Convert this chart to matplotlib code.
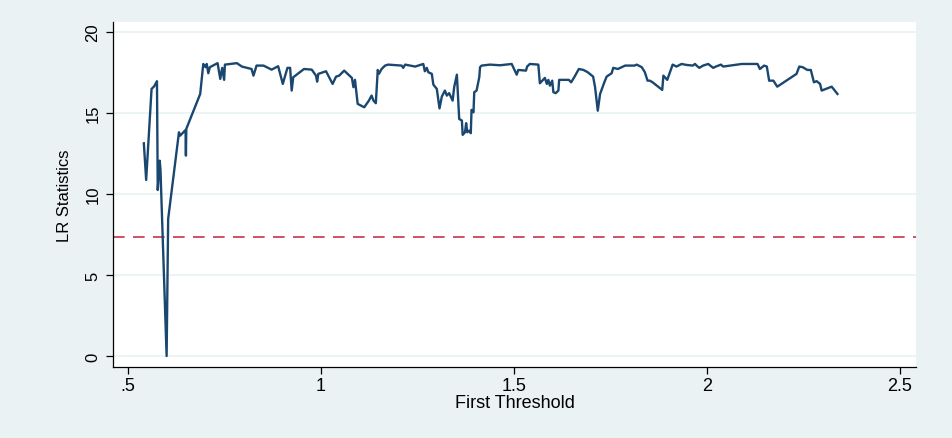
import matplotlib
matplotlib.use("Agg")
import matplotlib.pyplot as plt

# threshold values (x) and LR statistics (y)
threshold = [0.541, 0.547, 0.561, 0.568, 0.575, 0.577, 0.582, 0.584, 0.600, 0.604,
             0.632, 0.635, 0.649, 0.650, 0.651, 0.687, 0.695, 0.701, 0.704, 0.708,
             0.712, 0.732, 0.739, 0.744, 0.749, 0.751, 0.782, 0.795, 0.820, 0.825,
             0.833, 0.851, 0.872, 0.889, 0.901, 0.913, 0.920, 0.924, 0.928, 0.956,
             0.976, 0.987, 0.990, 0.993, 1.013, 1.030, 1.039, 1.047, 1.060, 1.080,
             1.084, 1.088, 1.095, 1.112, 1.124, 1.131, 1.136, 1.142, 1.147, 1.150,
             1.157, 1.166, 1.174, 1.209, 1.213, 1.218, 1.244, 1.265, 1.269, 1.274,
             1.278, 1.287, 1.291, 1.300, 1.307, 1.313, 1.321, 1.326, 1.332, 1.341,
             1.345, 1.352, 1.358, 1.365, 1.367, 1.373, 1.376, 1.379, 1.384, 1.388,
             1.390, 1.395, 1.397, 1.403, 1.410, 1.412, 1.416, 1.438, 1.464, 1.494,
             1.500, 1.507, 1.511, 1.531, 1.534, 1.541, 1.563, 1.567, 1.580, 1.585,
             1.589, 1.593, 1.599, 1.602, 1.608, 1.615, 1.617, 1.642, 1.648, 1.656,
             1.668, 1.680, 1.691, 1.705, 1.710, 1.717, 1.723, 1.734, 1.740, 1.753,
             1.757, 1.769, 1.788, 1.812, 1.818, 1.831, 1.839, 1.846, 1.852, 1.859,
             1.884, 1.887, 1.897, 1.911, 1.921, 1.934, 1.947, 1.963, 1.969, 1.973,
             1.980, 1.990, 2.003, 2.016, 2.023, 2.036, 2.042, 2.060, 2.079, 2.090,
             2.131, 2.137, 2.148, 2.155, 2.161, 2.172, 2.182, 2.232, 2.239, 2.248,
             2.260, 2.269, 2.277, 2.284, 2.293, 2.297, 2.323, 2.338]
lr_stat = [13.11, 10.85, 16.46, 16.63, 16.94, 10.23, 12.04, 11.53, 0.0, 8.45,
           13.79, 13.58, 13.93, 12.35, 14.00, 16.15, 18.00, 17.80, 18.00, 17.43,
           17.80, 18.05, 17.08, 17.76, 17.02, 17.96, 18.05, 17.84, 17.69, 17.28,
           17.90, 17.90, 17.65, 17.86, 16.77, 17.76, 17.76, 16.36, 17.18, 17.69,
           17.65, 17.28, 16.91, 17.39, 17.55, 16.77, 17.22, 17.28, 17.59, 17.14,
           16.57, 17.02, 15.54, 15.33, 15.74, 16.05, 15.74, 15.58, 17.63, 17.39,
           17.69, 17.90, 17.96, 17.90, 17.76, 17.96, 17.84, 18.00, 17.55, 17.76,
           17.49, 17.39, 16.73, 16.46, 15.26, 15.99, 16.36, 16.05, 16.20, 15.74,
           16.57, 17.34, 14.61, 14.51, 13.63, 13.79, 14.35, 13.79, 13.89, 13.73,
           15.17, 15.02, 16.26, 16.36, 17.18, 17.80, 17.90, 17.96, 17.92, 18.00,
           17.69, 17.34, 17.63, 17.59, 17.84, 18.00, 17.96, 16.81, 17.14, 16.77,
           17.02, 16.66, 16.97, 16.26, 16.20, 16.36, 17.02, 17.02, 16.87, 17.18,
           17.69, 17.63, 17.49, 17.22, 16.57, 15.12, 16.15, 16.87, 17.22, 17.43,
           17.76, 17.69, 17.90, 17.90, 17.96, 17.80, 17.49, 16.97, 16.97, 16.87,
           16.40, 17.28, 17.02, 17.96, 17.84, 18.00, 17.94, 17.90, 18.00, 17.90,
           17.76, 17.90, 18.00, 17.76, 17.84, 17.96, 17.84, 17.90, 17.96, 18.00,
           18.00, 17.69, 17.90, 17.84, 16.97, 16.97, 16.60, 17.39, 17.84, 17.80,
           17.63, 17.63, 16.87, 16.94, 16.77, 16.36, 16.60, 16.15]
critical_value = 7.35

x_ticks = [0.5, 1, 1.5, 2, 2.5]
x_tick_labels = [".5", "1", "1.5", "2", "2.5"]
y_ticks = [0, 5, 10, 15, 20]

plt.rcParams['font.family'] = ['Liberation Sans', 'DejaVu Sans']

bg = "#eaf2f3"
fig = plt.figure(figsize=(9.52, 4.39), dpi=100, facecolor=bg)
ax = fig.add_axes([0.1187, 0.1617, 0.8435, 0.7859])
ax.set_facecolor("white")

for yv in y_ticks:
    ax.axhline(yv, color=bg, lw=1.2, zorder=0)

ax.plot(threshold, lr_stat, color="#1a476f", lw=1.7, zorder=3)
ax.axhline(critical_value, color="#c8324e", lw=1.2, linestyle=(0, (7, 5)), zorder=2)

ax.set_xlim(0.4611, 2.5415)
ax.set_ylim(-0.678, 20.586)
ax.set_xticks(x_ticks)
ax.set_xticklabels(x_tick_labels, fontsize=13)
ax.set_yticks(y_ticks)
ax.set_yticklabels([str(v) for v in y_ticks], rotation=90, va="center", fontsize=12)

for s in ["top", "right"]:
    ax.spines[s].set_visible(False)
for s in ["left", "bottom"]:
    ax.spines[s].set_color("black")
    ax.spines[s].set_linewidth(0.9)

ax.tick_params(axis="both", direction="out", length=5, width=0.9, pad=4)
ax.tick_params(axis="x", pad=2)
ax.set_xlabel("First Threshold", fontsize=13, labelpad=0)
ax.set_ylabel("LR Statistics", fontsize=12, labelpad=10)

fig.savefig("out.png", dpi=100, facecolor=bg)
